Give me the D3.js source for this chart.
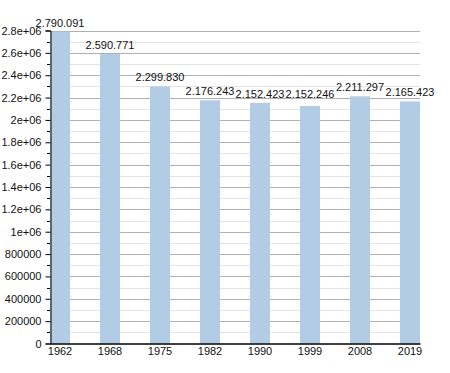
<!DOCTYPE html>
<html><head><meta charset="utf-8">
<script src="https://cdn.jsdelivr.net/npm/d3@7"></script>
<style>body{margin:0;background:#fff;} svg{display:block;font-family:"Liberation Sans",Arial,sans-serif;}</style>
</head><body>
<svg id="c" width="450" height="373"></svg>
<script>
const years = ["1962","1968","1975","1982","1990","1999","2008","2019"];
// values printed above the bars
const population = [2790091, 2590771, 2299830, 2176243, 2152423, 2152246, 2211297, 2165423];
// bar heights as drawn in the picture (1999 bar is drawn lower than its label)
const barValues = [2790091, 2590771, 2299830, 2176243, 2152423, 2125246, 2211297, 2165423];
const yTickValues = [0,200000,400000,600000,800000,1000000,1200000,1400000,1600000,1800000,2000000,2200000,2400000,2600000,2800000];
const yTickLabels = ["0","200000","400000","600000","800000","1e+06","1.2e+06","1.4e+06","1.6e+06","1.8e+06","2e+06","2.2e+06","2.4e+06","2.6e+06","2.8e+06"];

const svg = d3.select("#c");
const L = 50, R = 420, B = 343.5, T = 30.5;
const x = d3.scaleBand().domain(years).range([L, R]).paddingInner(0.6).paddingOuter(0);
const y = d3.scaleLinear().domain([0, 2800000]).range([B, T]);
const minor = d3.range(100000, 2800000, 200000);
const fmt = d3.formatLocale({decimal:",", thousands:".", grouping:[3], currency:["",""]}).format(",d");

// minor gridlines
svg.append("g").selectAll("line").data(minor).join("line")
  .attr("x1", L).attr("x2", R).attr("y1", d => Math.round(y(d))+0.5).attr("y2", d => Math.round(y(d))+0.5)
  .attr("stroke", "#e3e3e3").attr("stroke-width", 1);
// major gridlines
svg.append("g").selectAll("line").data(yTickValues.slice(1)).join("line")
  .attr("x1", L).attr("x2", R).attr("y1", d => Math.round(y(d))+0.5).attr("y2", d => Math.round(y(d))+0.5)
  .attr("stroke", "#b0b0b0").attr("stroke-width", 1);

// bars
svg.append("g").selectAll("rect").data(barValues).join("rect")
  .attr("x", (d,i) => x(years[i])).attr("width", x.bandwidth())
  .attr("y", d => y(d)).attr("height", d => B - y(d))
  .attr("fill", "#b3cce5");

// value labels
svg.append("g").selectAll("text").data(population).join("text")
  .attr("x", (d,i) => x(years[i]) + x.bandwidth()/2)
  .attr("y", d => y(d) - 5)
  .attr("text-anchor", "middle").attr("font-size", 11).attr("fill", "#111")
  .text(d => fmt(d));

// y axis
const yAxis = d3.axisLeft(y).tickValues(yTickValues).tickSize(5).tickPadding(4)
  .tickFormat((d,i) => yTickLabels[i]);
const gy = svg.append("g").attr("transform", `translate(${L+0.5},0)`).call(yAxis);
gy.select(".domain").attr("stroke", "#000");
gy.selectAll("text").attr("font-size", 11).attr("fill", "#111").attr("font-family", "Liberation Sans, Arial, sans-serif");
gy.selectAll(".tick line").attr("stroke", "#000");
// minor ticks
svg.append("g").selectAll("line").data(minor).join("line")
  .attr("x1", L - 3).attr("x2", L).attr("y1", d => Math.round(y(d))+0.5).attr("y2", d => Math.round(y(d))+0.5)
  .attr("stroke", "#000");

// x axis
const xAxis = d3.axisBottom(x).tickSize(0).tickPadding(4);
const gx = svg.append("g").attr("transform", `translate(0,${B})`).call(xAxis);
gx.select(".domain").attr("stroke", "#000").attr("stroke-width", 1.3);
gx.selectAll("text").attr("font-size", 11).attr("fill", "#111").attr("font-family", "Liberation Sans, Arial, sans-serif");
</script>
</body></html>
